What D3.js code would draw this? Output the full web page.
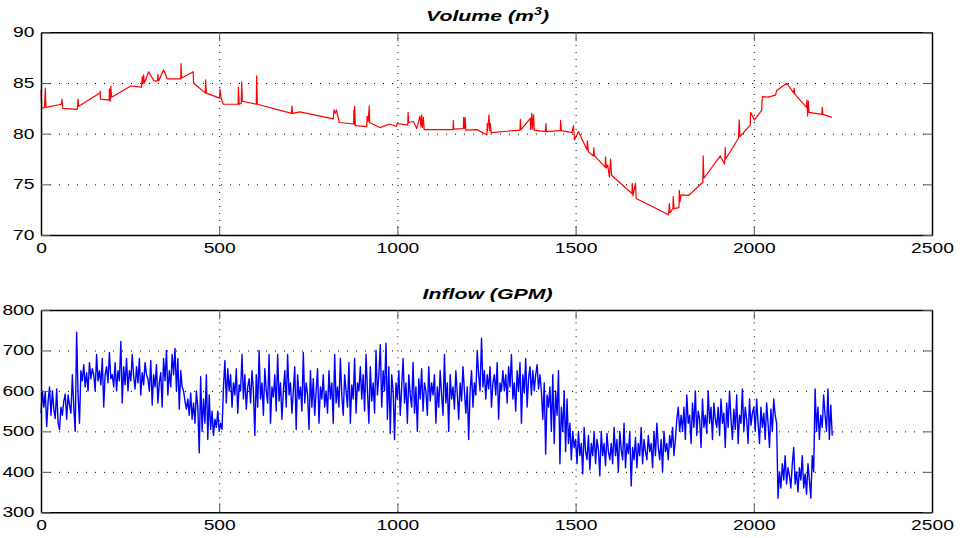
<!DOCTYPE html>
<html><head><meta charset="utf-8">
<script src="https://cdn.jsdelivr.net/npm/d3@7"></script>
<style>
body{margin:0;background:#fff;}
svg{display:block;}
text{font-family:"Liberation Sans",Arial,Helvetica,sans-serif;}
</style></head>
<body><svg id="chart" width="960" height="538"></svg>
<script>
const xTicks = [0, 500, 1000, 1500, 2000, 2500];
const volTicks = [70, 75, 80, 85, 90];
const inflowTicks = [300, 400, 500, 600, 700, 800];

const volX = [0,2,10,12,14,57,59,61,102,104,106,165,166,167,191,192,194,196,198,252,282,284,286,288,290,302,317,327,328,330,344,354,392,393,395,427,428,461,462,464,501,502,506,512,553,554,556,562,563,565,604,605,607,703,704,706,726,820,822,826,829,837,877,878,879,880,882,914,915,918,921,922,951,978,997,999,1029,1030,1032,1045,1054,1063,1066,1068,1070,1073,1075,1156,1157,1158,1185,1186,1188,1190,1192,1223,1251,1252,1253,1257,1259,1261,1263,1344,1345,1347,1373,1374,1377,1379,1382,1384,1415,1417,1418,1457,1458,1460,1490,1494,1497,1508,1532,1533,1536,1550,1551,1553,1583,1584,1586,1590,1595,1598,1601,1658,1659,1661,1668,1670,1761,1763,1765,1773,1774,1776,1790,1791,1793,1796,1817,1857,1858,1860,1906,1918,1920,1921,1957,1959,1961,1990,1991,2002,2022,2024,2040,2061,2064,2093,2112,2113,2115,2148,2149,2151,2153,2155,2191,2192,2194,2219];
const volY = [84.3,82.5,82.6,84.5,82.6,82.9,83.4,82.5,82.4,83.4,82.7,84.0,84.2,83.4,83.3,84.4,83.2,84.7,83.6,84.7,84.6,85.6,84.9,85.8,85.0,86.1,85.2,85.2,85.85,85.2,86.3,85.4,85.4,86.9,85.5,86.1,85.0,84.0,85.3,84.0,83.5,84.4,83.4,82.9,82.9,84.6,82.9,83.0,85.1,83.2,82.9,85.7,82.9,82.0,82.75,82.0,82.15,81.45,82.35,82.0,82.35,81.1,80.95,82.35,80.9,82.7,80.8,80.7,81.7,81.2,82.75,81.1,80.6,80.95,80.7,81.0,80.85,82.1,81.1,81.2,80.5,81.7,80.7,81.85,80.6,81.6,80.4,80.4,81.3,80.45,80.5,81.6,80.5,81.6,80.35,80.4,79.9,81.0,80.3,81.85,80.3,81.0,80.1,80.35,81.4,80.4,81.5,80.4,82.0,80.45,81.85,80.35,80.2,81.0,80.2,80.3,81.3,80.3,80.1,80.8,79.4,80.2,78.4,79.3,78.2,77.8,78.6,77.8,76.7,77.7,76.6,76.9,75.7,77.5,75.9,74.1,75.1,73.85,75.1,73.6,72.0,73.1,72.2,72.6,73.8,72.6,72.7,74.4,73.3,73.95,73.9,75.2,77.8,75.6,77.8,77.0,78.65,77.5,79.55,81.35,79.7,80.85,82.1,81.35,82.3,83.65,83.6,83.8,84.25,84.97,84.0,84.5,83.9,82.6,83.3,81.75,83.2,82.1,81.9,82.6,81.9,81.6];

const inflowStep = 4;
const inflow = [
545,600,560,598,512,575,610,540,600,555,532,605,520,505,560,540,575,592,530,590,565,545,640,560,500,
745,590,520,650,625,665,610,645,600,670,630,655,640,600,690,625,650,615,680,560,640,660,620,695,630,
640,610,670,600,650,625,722,570,660,615,680,600,650,625,690,635,605,660,620,680,590,645,615,670,640,
630,600,675,565,640,610,665,570,620,645,560,680,625,700,590,650,610,690,640,705,600,680,555,650,610,
600,575,555,580,540,595,530,570,520,600,560,447,635,500,580,520,640,480,590,505,550,490,530,510,550,
500,520,505,610,675,570,655,600,640,560,620,590,655,545,615,600,690,580,640,555,610,630,570,650,600,
490,640,560,700,580,620,540,655,600,570,690,520,610,585,640,550,690,575,620,530,600,650,560,690,590,
620,545,600,660,505,640,580,610,550,695,570,620,590,505,650,560,630,540,600,655,520,610,580,640,560,
600,545,650,580,620,520,690,570,610,560,680,590,540,640,600,560,670,520,615,580,680,545,620,600,660,
580,640,550,690,600,520,660,575,620,545,700,590,640,715,560,650,600,718,530,660,495,640,600,480,620,
580,650,540,610,680,570,620,520,640,590,560,670,545,610,500,630,580,655,550,620,600,540,660,575,620,
590,640,520,610,560,650,590,540,690,570,620,500,640,580,610,555,650,595,530,620,575,660,600,545,610,
480,600,650,560,620,590,700,640,600,730,610,650,580,640,605,660,560,620,640,590,670,530,620,600,650,
600,640,570,660,610,690,580,620,550,650,600,670,520,640,595,680,560,630,660,590,650,600,640,665,605,
640,600,530,620,444,590,560,610,500,640,470,600,540,650,420,560,500,600,450,580,470,520,430,500,460,
480,420,500,440,470,395,510,450,430,490,405,470,440,500,420,480,455,390,500,440,470,415,495,450,430,
470,420,510,440,480,400,500,455,430,520,410,470,445,500,365,460,430,485,410,470,440,510,420,480,450,
430,490,450,470,410,500,440,520,460,430,480,400,500,450,470,430,490,460,510,440,480,530,560,500,540,
500,560,480,590,520,540,470,570,510,600,490,550,530,460,580,510,540,495,600,520,560,480,570,530,510,
560,490,580,520,545,460,570,510,600,530,480,555,505,590,470,540,520,605,500,560,530,470,580,515,545,
560,500,580,520,470,560,510,545,480,570,520,460,555,500,580,540,520,335,400,360,420,380,440,370,410,
390,360,420,460,370,400,350,410,380,440,360,395,345,420,380,335,440,400,605,500,560,480,540,510,590,
540,500,605,480,565,490];

const svg = d3.select("#chart");
const L = 41, R = 932;
const panels = [
  {top: 32.3, bottom: 235, yDomain: [70, 90], yTicks: volTicks, title: "Volume", color: "#ff0000", width: 1.2,
   data: volX.map((x, i) => [x, volY[i]])},
  {top: 310, bottom: 512.3, yDomain: [300, 800], yTicks: inflowTicks, title: "Inflow (GPM)", color: "#0000ff", width: 1.4,
   data: inflow.map((v, i) => [i * inflowStep, v])}
];

panels.forEach((p, k) => {
  const x = d3.scaleLinear().domain([0, 2500]).range([L, R]);
  const y = d3.scaleLinear().domain(p.yDomain).range([p.bottom, p.top]);
  const g = svg.append("g");
  const W = R - L, H = p.bottom - p.top;

  // grid
  g.append("g").attr("transform", `translate(0,${p.bottom})`)
    .call(d3.axisBottom(x).tickValues(xTicks.slice(1, -1)).tickSize(-H).tickFormat(""))
    .call(a => a.select(".domain").remove())
    .call(a => a.selectAll("line").attr("stroke", "#000").attr("stroke-width", 1).attr("stroke-dasharray", "1,6"));
  g.append("g").attr("transform", `translate(${L},0)`)
    .call(d3.axisLeft(y).tickValues(p.yTicks.slice(1, -1)).tickSize(-W).tickFormat(""))
    .call(a => a.select(".domain").remove())
    .call(a => a.selectAll("line").attr("stroke", "#000").attr("stroke-width", 1).attr("stroke-dasharray", "1,8"));

  // data line
  g.append("path").datum(p.data)
    .attr("fill", "none").attr("stroke", p.color).attr("stroke-width", p.width)
    .attr("stroke-linejoin", "round")
    .attr("d", d3.line().x(d => x(d[0])).y(d => y(d[1])));

  // axes with inward ticks
  const styleAxis = a => {
    a.select(".domain").attr("stroke", "#000").attr("stroke-width", 1.5);
    a.selectAll(".tick line").attr("stroke", "#555").attr("stroke-width", 1);
    a.selectAll("text").attr("font-size", 14).attr("fill", "#000")
      .attr("font-family", "'Liberation Sans', Arial, sans-serif")
      .attr("lengthAdjust", "spacingAndGlyphs")
      .attr("textLength", function () { return this.textContent.length * 10.7; });
  };
  g.append("g").attr("transform", `translate(0,${p.bottom})`)
    .call(d3.axisBottom(x).tickValues(xTicks).tickSize(-9).tickSizeOuter(0).tickPadding(8).tickFormat(d3.format("d")))
    .call(styleAxis)
    .call(a => a.selectAll("text").attr("dy", "0.71em"));
  g.append("g").attr("transform", `translate(0,${p.top})`)
    .call(d3.axisTop(x).tickValues(xTicks).tickSize(-9).tickSizeOuter(0).tickFormat(""))
    .call(styleAxis);
  g.append("g").attr("transform", `translate(${L},0)`)
    .call(d3.axisLeft(y).tickValues(p.yTicks).tickSize(-9).tickSizeOuter(0).tickPadding(6.5).tickFormat(d3.format("d")))
    .call(styleAxis);
  g.append("g").attr("transform", `translate(${R},0)`)
    .call(d3.axisRight(y).tickValues(p.yTicks).tickSize(-9).tickSizeOuter(0).tickFormat(""))
    .call(styleAxis);

  // title (horizontally stretched like the original print)
  const t = g.append("text")
    .attr("transform", `translate(${(L + R) / 2 + 1},${p.top - 11.5}) scale(1.42,1)`)
    .attr("text-anchor", "middle")
    .attr("font-size", 15).attr("font-weight", "bold").attr("font-style", "italic");
  if (k === 0) {
    t.append("tspan").text("Volume (m");
    t.append("tspan").attr("font-size", 10).attr("dy", -6).text("3");
    t.append("tspan").attr("dy", 6).text(")");
  } else {
    t.text(p.title);
  }
});
</script>
</body></html>
